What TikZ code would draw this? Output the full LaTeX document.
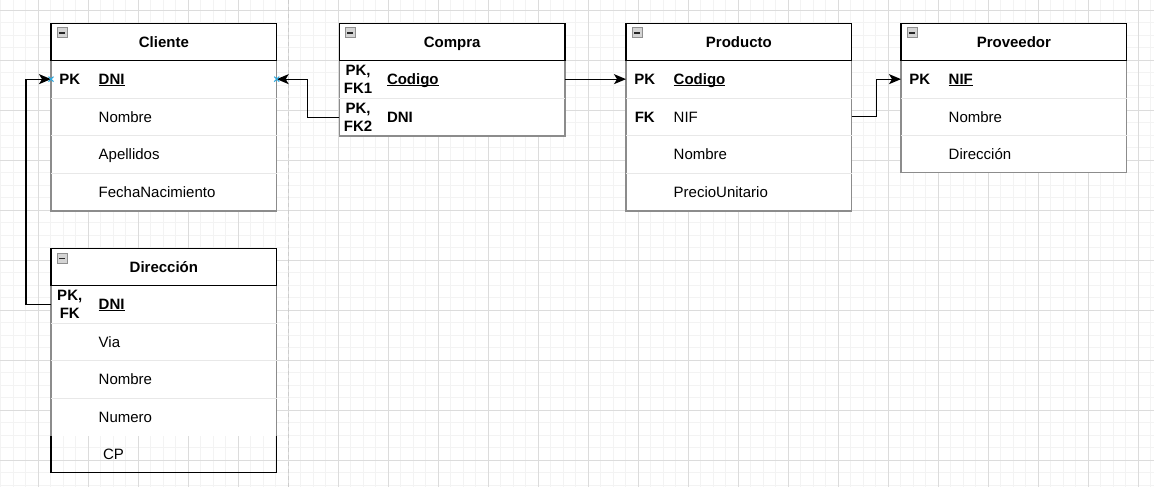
\documentclass[tikz,border=0pt]{standalone}
\usepackage{fontspec}
\setmainfont{Liberation Sans}
\usetikzlibrary{arrows.meta}
\definecolor{gridminor}{HTML}{F3F3F3}
\definecolor{gridmajor}{HTML}{DCDCDC}
\definecolor{bodyline}{HTML}{8C8C8C}
\definecolor{sepline}{HTML}{E8E8E8}
\definecolor{markerblue}{HTML}{29A8E0}
\definecolor{iconfill}{HTML}{D4D4D4}
\definecolor{iconline}{HTML}{8F8F8F}
\definecolor{pageline}{HTML}{CCCCCC}
\newcommand\pkul[1]{\setbox0\hbox{#1}\rlap{\rule[-1.8pt]{\wd0}{1.3pt}}\box0}
\newcommand\errow[4]{% name, x, y, field
  \node[rowbox] (#1) at (#2,#3) {};
  \node[field] (#1f) at ([xshift=47.7pt]#1.west) {#4};
}
\newcommand\erkeyrow[5]{% name, x, y, key, field
  \node[rowbox] (#1) at (#2,#3) {};
  \node[keytxt] (#1k) at ([xshift=18.75pt]#1.west) {#4};
  \node[field] (#1f) at ([xshift=47.7pt]#1.west) {#5};
}
\begin{document}
\begin{tikzpicture}[x=1pt,y=-1pt,
  every node/.style={inner sep=0pt, outer sep=0pt},
  basefont/.style={font=\fontsize{15}{17.5}\selectfont},
  hdr/.style={draw=black, fill=white, line width=1.25pt, minimum width=225.7pt, minimum height=37pt, anchor=north west},
  body/.style={draw=bodyline, fill=white, line width=1.25pt, minimum width=225.7pt, anchor=north west},
  rowbox/.style={minimum width=225.7pt, minimum height=37.7pt, anchor=north west},
  sep/.style={draw=sepline, line width=1pt},
  title/.style={font=\fontsize{15}{17.5}\selectfont\bfseries, text height=10.7pt, text depth=0pt},
  field/.style={basefont, anchor=west, text height=10.7pt, text depth=0pt},
  keytxt/.style={font=\fontsize{15}{18.3}\selectfont\bfseries, align=center},
  icon/.style={draw=iconline, fill=iconfill, line width=1pt, minimum width=10pt, minimum height=10pt, anchor=north west,
    path picture={\draw[black!85, line width=1.3pt] ([xshift=2pt]path picture bounding box.west) -- ([xshift=-2pt]path picture bounding box.east);}},
  conn/.style={draw=black, line width=1.25pt, -{Stealth[length=12pt,width=10pt,inset=3pt]}},
  cxmark/.style={draw=markerblue, line width=1pt}
]
\useasboundingbox (0,0) rectangle (1154,487);
\fill[white] (0,0) rectangle (1154,487);
% grid
\begin{scope}
\clip (0,0) rectangle (1154,487);
\foreach \i in {0,...,92} {\draw[gridminor, line width=1pt] ({0.8+12.5*\i},0) -- ({0.8+12.5*\i},487);}
\foreach \i in {0,...,38} {\draw[gridminor, line width=1pt] (0,{10.3+12.5*\i}) -- (1154,{10.3+12.5*\i});}
\foreach \i in {0,...,22} {\draw[gridmajor, line width=1pt] ({38.3+50*\i},0) -- ({38.3+50*\i},487);}
\foreach \i in {0,...,9} {\draw[gridmajor, line width=1pt] (0,{10.3+50*\i}) -- (1154,{10.3+50*\i});}
\end{scope}
\coordinate (pgtop) at (288.7,0);
\coordinate (pgbot) at (288.7,487);
\draw[pageline, line width=1.25pt, dash pattern=on 4pt off 3pt] (pgtop) -- (pgbot);

% ---------- Cliente
\node[body, minimum height=150.8pt] (cliB) at (51,60.3) {};
\erkeyrow{cliR1}{51}{60.3}{PK}{\bfseries\pkul{DNI}}
\errow{cliR2}{51}{98}{Nombre}
\errow{cliR3}{51}{135.7}{Apellidos}
\errow{cliR4}{51}{173.4}{FechaNacimiento}
\draw[sep] (cliR1.south west) -- (cliR1.south east);
\draw[sep] (cliR2.south west) -- (cliR2.south east);
\draw[sep] (cliR3.south west) -- (cliR3.south east);
\node[hdr] (cliH) at (51,23.3) {};
\node[title] (cliT) at (cliH.center) {Cliente};
\node[icon] (cliI) at (57,28) {};

% ---------- Direccion
\node[fill=white, minimum width=225.7pt, minimum height=150.8pt, anchor=north west] (dirB) at (51,285.3) {};
\draw[bodyline, line width=1.25pt] (dirB.north west) -- (dirB.south west);
\draw[bodyline, line width=1.25pt] (dirB.north east) -- (dirB.south east);
\erkeyrow{dirR1}{51}{285.3}{PK,\\FK}{\bfseries\pkul{DNI}}
\errow{dirR2}{51}{323}{Via}
\errow{dirR3}{51}{360.7}{Nombre}
\errow{dirR4}{51}{398.4}{Numero}
\draw[sep] (dirR1.south west) -- (dirR1.south east);
\draw[sep] (dirR2.south west) -- (dirR2.south east);
\draw[sep] (dirR3.south west) -- (dirR3.south east);
\node[minimum width=225.7pt, minimum height=36.6pt, anchor=north west] (dirCP) at (51,436.1) {};
\draw[black, line width=1.25pt] (dirCP.north west) -- (dirCP.south west) -- (dirCP.south east) -- (dirCP.north east);
\node[field] (dirCPt) at ([xshift=52pt]dirCP.west) {CP};
\node[hdr] (dirH) at (51,248.3) {};
\node[title] (dirT) at (dirH.center) {Dirección};
\node[icon] (dirI) at (57,253.3) {};

% ---------- Compra
\node[body, minimum height=75.7pt] (comB) at (339.3,60.3) {};
\erkeyrow{comR1}{339.3}{60.3}{PK,\\FK1}{\bfseries\pkul{Codigo}}
\erkeyrow{comR2}{339.3}{98.3}{PK,\\FK2}{\bfseries DNI}
\draw[sep] (comR1.south west) -- (comR1.south east);
\node[hdr] (comH) at (339.3,23.3) {};
\node[title] (comT) at (comH.center) {Compra};
\node[icon] (comI) at (345.3,28) {};

% ---------- Producto
\node[body, minimum height=150.8pt] (proB) at (626,60.3) {};
\erkeyrow{proR1}{626}{60.3}{PK}{\bfseries\pkul{Codigo}}
\erkeyrow{proR2}{626}{98}{FK}{NIF}
\errow{proR3}{626}{135.7}{Nombre}
\errow{proR4}{626}{173.4}{PrecioUnitario}
\draw[sep] (proR1.south west) -- (proR1.south east);
\draw[sep] (proR2.south west) -- (proR2.south east);
\draw[sep] (proR3.south west) -- (proR3.south east);
\node[hdr] (proH) at (626,23.3) {};
\node[title] (proT) at (proH.center) {Producto};
\node[icon] (proI) at (632,28) {};

% ---------- Proveedor
\node[body, minimum height=112.4pt] (prvB) at (901,60.3) {};
\erkeyrow{prvR1}{901}{60.3}{PK}{\bfseries\pkul{NIF}}
\errow{prvR2}{901}{98}{Nombre}
\errow{prvR3}{901}{135.5}{Dirección}
\draw[sep] (prvR1.south west) -- (prvR1.south east);
\draw[sep] (prvR2.south west) -- (prvR2.south east);
\node[hdr] (prvH) at (901,23.3) {};
\node[title] (prvT) at (prvH.center) {Proveedor};
\node[icon] (prvI) at (907,28) {};

% ---------- connectors
\draw[conn] (dirR1.west) -- ++(-25,0) |- (cliR1.west);
\draw[conn] (comR2.west) -- ++(-31.6,0) |- (cliR1.east);
\draw[conn] (comR1.east) -- (proR1.west);
\draw[conn] (proR2.east) -- ++(24.7,0) |- (prvR1.west);

% connection markers
\draw[cxmark] ([shift={(-2.5,-2.5)}]cliR1.west) -- ([shift={(2.5,2.5)}]cliR1.west);
\draw[cxmark] ([shift={(-2.5,2.5)}]cliR1.west) -- ([shift={(2.5,-2.5)}]cliR1.west);
\draw[cxmark] ([shift={(-2.5,-2.5)}]cliR1.east) -- ([shift={(2.5,2.5)}]cliR1.east);
\draw[cxmark] ([shift={(-2.5,2.5)}]cliR1.east) -- ([shift={(2.5,-2.5)}]cliR1.east);
\end{tikzpicture}
\end{document}
